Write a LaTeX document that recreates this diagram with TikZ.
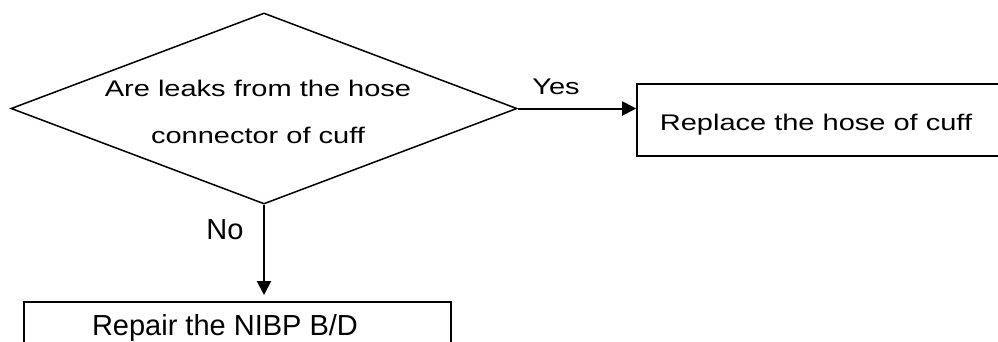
\documentclass[tikz,border=0pt]{standalone}
\usepackage{graphicx}
\usepackage{fontspec}
\setmainfont{Liberation Sans}
\usetikzlibrary{shapes.geometric,arrows.meta}

% text that is set a little flatter than the font
\newcommand\squashtext[1]{\scalebox{1}[0.78]{#1}}

\tikzset{
  decision/.style={draw, thick, line width=1.5pt, shape=diamond, inner sep=0pt,
    minimum width=506pt, minimum height=191pt},
  procbox/.style={draw, line width=1.6pt},
  flow/.style={line width=2pt, -{Triangle[length=14pt,width=14pt]}},
  txt/.style={font=\fontsize{29}{35}\selectfont, inner sep=0pt},
}

\begin{document}
\begin{tikzpicture}[x=1pt, y=-1pt]
  \path[use as bounding box, clip] (0,0) rectangle (998,341);

  % the question and its two outcomes
  \node[decision] (leak) at (264,108.5) {};
  \node[txt] (leaktext) at (258,110.5)
    {\squashtext{\fontsize{29}{60.6}\selectfont\begin{tabular}{@{}c@{}}Are leaks from the hose\\connector of cuff\end{tabular}}};

  \node[procbox, txt, minimum width=368pt, minimum height=72pt,
    text height=20pt, text depth=0pt] (fix) at (821,120)
    {\hspace*{-10pt}\squashtext{Replace the hose of cuff}};
  \node[procbox, txt, anchor=north, minimum width=427pt,
    text height=34pt, text depth=38pt] (repair) at (237.5,301)
    {\hspace*{-25pt}Repair the NIBP B/D};

  \draw[flow] (leak.east) -- (leak.east -| fix.west);
  \draw[flow, shorten >=6pt] (leak.south) -- (leak.south |- repair.north);

  \node[txt, anchor=base] (yes) at (556,94) {\squashtext{Yes}};
  \node[txt, anchor=base] (no) at (225,239) {No};
\end{tikzpicture}
\end{document}
